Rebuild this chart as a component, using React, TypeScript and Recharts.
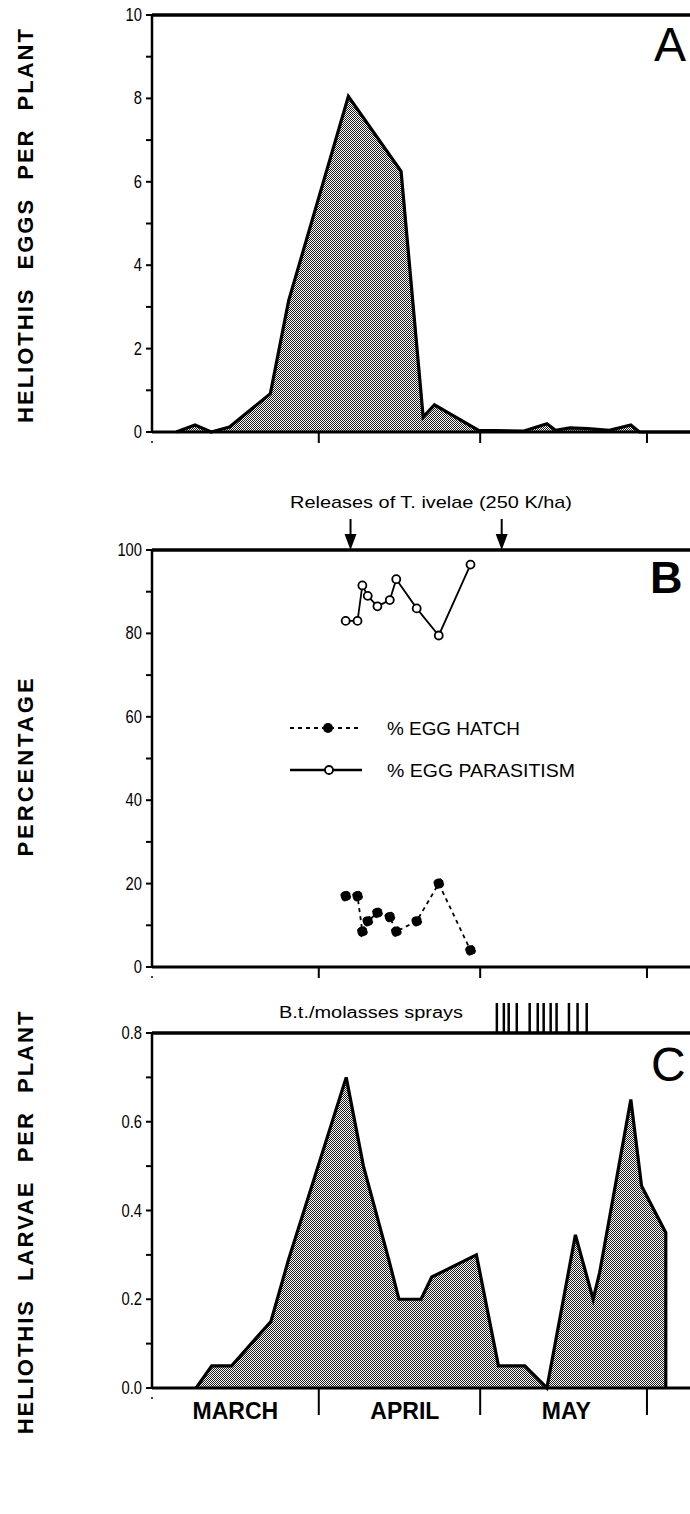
import React from 'react';
import {
  AreaChart,
  Area,
  LineChart,
  Line,
  XAxis,
  YAxis,
  ReferenceLine,
  ReferenceDot,
  Legend,
} from 'recharts';

// x values are days counted from 1 March
const monthStarts = [0, 31, 61, 92];
const monthMids = [15.5, 47, 77];
const monthNames = ['MARCH', 'APRIL', 'MAY'];

// panel A: Heliothis eggs per plant
const eggDays = [4.5, 8, 11, 14.4, 22, 25.4, 36.5, 46.3, 50.4, 52.5, 60.7, 69, 73.4, 75, 77.7, 81, 85, 89, 90.6, 100];
const eggCounts = [0, 0.17, 0, 0.12, 0.92, 3.15, 8.05, 6.25, 0.36, 0.65, 0.04, 0.02, 0.2, 0.04, 0.1, 0.08, 0.04, 0.17, 0, 0];
const eggTicks = [0, 1, 2, 3, 4, 5, 6, 7, 8, 9, 10];
const eggLabels = [0, 2, 4, 6, 8, 10];

// panel B: hatch and parasitism
const sampleDays = [36.0, 38.2, 39.1, 40.1, 41.9, 44.2, 45.4, 49.2, 53.3, 59.2];
const hatchPct = [17, 17, 8.5, 11, 13, 12, 8.5, 11, 20, 4];
const parasitismPct = [83, 83, 91.5, 89, 86.5, 88, 93, 86, 79.5, 96.5];
const seriesNames = ['% EGG HATCH', '% EGG PARASITISM'];
const pctTicks = [0, 10, 20, 30, 40, 50, 60, 70, 80, 90, 100];
const pctLabels = [0, 20, 40, 60, 80, 100];
const releaseDays = [36.9, 65.0];

// panel C: Heliothis larvae per plant
const larvaeDays = [8.2, 11.1, 14.8, 22.1, 25.4, 36.1, 39.3, 44, 45.9, 50, 52, 60.3, 64.4, 69.3, 73.4, 78.7, 82, 83.2, 89, 91, 95.5, 95.5];
const larvaeCounts = [0, 0.05, 0.05, 0.15, 0.29, 0.7, 0.5, 0.29, 0.2, 0.2, 0.25, 0.3, 0.05, 0.05, 0, 0.345, 0.2, 0.26, 0.65, 0.455, 0.35, 0];
const larvaeTicks = [0, 0.1, 0.2, 0.3, 0.4, 0.5, 0.6, 0.7, 0.8];
const larvaeLabels = [0, 0.2, 0.4, 0.6, 0.8];
const sprayDays = [64.1, 65.4, 66.3, 67.8, 70.2, 71.7, 72.8, 74.1, 75.2, 77.5, 79.1, 80.8];

const eggData = eggDays.map((d, i) => ({ day: d, eggs: eggCounts[i] }));
const pctData = sampleDays.map((d, i) => ({ day: d, hatch: hatchPct[i], parasitism: parasitismPct[i] }));
const larvaeData = larvaeDays.map((d, i) => ({ day: d, larvae: larvaeCounts[i] }));

const FONT = '"Liberation Sans", Arial, sans-serif';

const makeYTick = (labels: number[], fmt: (v: number) => string) => (props: any) => {
  const { x, y, payload } = props;
  const v = payload.value;
  if (!labels.some((l) => Math.abs(l - v) < 1e-6)) return <g />;
  return (
    <text transform={`translate(${x - 2},${y + 6}) scale(0.82,1)`} textAnchor="end" fontSize={18} fill="#000" fontFamily={FONT}>
      {fmt(v)}
    </text>
  );
};

// month boundary marks under panels A and B
const BoundaryTick = (props: any) => {
  const { x, y, payload } = props;
  if (payload.value === 0) return <circle cx={x} cy={y + 10} r={1} fill="#000" />;
  return <line x1={x} y1={y} x2={x} y2={y + 11} stroke="#000" strokeWidth={2} />;
};

const MonthTick = (props: any) => {
  const { x, y, payload } = props;
  const v = payload.value;
  const mi = monthMids.indexOf(v);
  if (mi >= 0) {
    return (
      <text x={x} y={y + 31} textAnchor="middle" fontSize={23} fontWeight="bold" fill="#000" fontFamily={FONT}>
        {monthNames[mi]}
      </text>
    );
  }
  if (v === 0) return <circle cx={x} cy={y + 10} r={1} fill="#000" />;
  return <line x1={x} y1={y} x2={x} y2={y + 27} stroke="#000" strokeWidth={2} />;
};

const ArrowDown = (p: any) => (
  <g>
    <line x1={p.cx} y1={p.cy - 31} x2={p.cx} y2={p.cy - 12} stroke="#000" strokeWidth={2} />
    <polygon points={`${p.cx - 6},${p.cy - 16} ${p.cx + 6},${p.cy - 16} ${p.cx},${p.cy}`} fill="#000" />
  </g>
);

const SprayMark = (p: any) => (
  <line x1={p.cx} y1={p.cy - 30} x2={p.cx} y2={p.cy} stroke="#000" strokeWidth={2.5} />
);

const Dither = ({ id }: { id: string }) => (
  <defs>
    <pattern id={id} width={2} height={2} patternUnits="userSpaceOnUse">
      <rect width={2} height={2} fill="#fff" />
      <rect x={0} y={0} width={1} height={1} fill="#1e1e1e" />
      <rect x={1} y={1} width={1} height={1} fill="#1e1e1e" />
    </pattern>
  </defs>
);

const renderLegend = () => (
  <svg width={330} height={70} style={{ display: 'block' }}>
    <line x1={5} y1={13} x2={77} y2={13} stroke="#000" strokeWidth={2} strokeDasharray="4 4" />
    <circle cx={43} cy={13} r={5} fill="#000" />
    <text x={102} y={20} fontSize={18} fontFamily={FONT} textLength={133} lengthAdjust="spacingAndGlyphs">
      {seriesNames[0]}
    </text>
    <line x1={5} y1={55} x2={77} y2={55} stroke="#000" strokeWidth={2.5} />
    <circle cx={44} cy={55} r={4} fill="#fff" stroke="#000" strokeWidth={1.8} />
    <text x={102} y={62} fontSize={18} fontFamily={FONT} textLength={188} lengthAdjust="spacingAndGlyphs">
      {seriesNames[1]}
    </text>
  </svg>
);

const axisLine = { stroke: '#000', strokeWidth: 3 };
const yAxisLine = { stroke: '#000', strokeWidth: 2.5 };
const tickLine = { stroke: '#000', strokeWidth: 2 };

export default function App() {
  return (
    <div style={{ position: 'absolute', left: 0, top: 0, width: 690, height: 1514, background: '#fff', fontFamily: FONT, overflow: 'hidden' }}>
      <div style={{ position: 'absolute', left: 0, top: 0 }}>
        <AreaChart width={690} height={462} data={eggData} margin={{ top: 15, right: 0, bottom: 0, left: 0 }}>
          <Dither id="ditherA" />
          <XAxis dataKey="day" type="number" domain={[0, 100]} ticks={monthStarts} interval={0} tick={BoundaryTick} tickLine={false} tickSize={0} tickMargin={0} axisLine={axisLine} height={30} />
          <YAxis type="number" domain={[0, 10]} ticks={eggTicks} interval={0} width={152} tickSize={6} axisLine={yAxisLine} tickLine={tickLine} tick={makeYTick(eggLabels, (v) => String(v))} />
          <ReferenceLine y={10} stroke="#000" strokeWidth={3.5} />
          <Area type="linear" dataKey="eggs" stroke="#000" strokeWidth={3.2} fill="url(#ditherA)" fillOpacity={1} dot={false} activeDot={false} isAnimationActive={false} />
        </AreaChart>
      </div>

      <div style={{ position: 'absolute', left: 0, top: 500 }}>
        <LineChart width={690} height={497} data={pctData} margin={{ top: 50, right: 0, bottom: 0, left: 0 }}>
          <XAxis dataKey="day" type="number" domain={[0, 100]} ticks={monthStarts} interval={0} tick={BoundaryTick} tickLine={false} tickSize={0} tickMargin={0} axisLine={axisLine} height={30} />
          <YAxis type="number" domain={[0, 100]} ticks={pctTicks} interval={0} width={152} tickSize={6} axisLine={yAxisLine} tickLine={tickLine} tick={makeYTick(pctLabels, (v) => String(v))} />
          <ReferenceLine y={100} stroke="#000" strokeWidth={3.5} />
          {releaseDays.map((d) => (
            <ReferenceDot key={d} x={d} y={100} r={0} shape={ArrowDown} />
          ))}
          <Line type="linear" dataKey="hatch" name={seriesNames[0]} stroke="#000" strokeWidth={1.8} strokeDasharray="4 4" dot={{ r: 5, fill: '#000', stroke: '#000', strokeWidth: 1 }} activeDot={false} isAnimationActive={false} />
          <Line type="linear" dataKey="parasitism" name={seriesNames[1]} stroke="#000" strokeWidth={1.8} dot={{ r: 4, fill: '#fff', stroke: '#000', strokeWidth: 1.8 }} activeDot={false} isAnimationActive={false} />
          <Legend layout="vertical" align="center" verticalAlign="middle" content={renderLegend} wrapperStyle={{ position: 'absolute', left: 285, top: 215, width: 330 }} />
        </LineChart>
      </div>

      <div style={{ position: 'absolute', left: 0, top: 990 }}>
        <AreaChart width={690} height={443} data={larvaeData} margin={{ top: 43, right: 0, bottom: 0, left: 0 }}>
          <Dither id="ditherC" />
          <XAxis dataKey="day" type="number" domain={[0, 100]} ticks={[...monthStarts, ...monthMids].sort((a, b) => a - b)} tick={MonthTick} tickLine={false} tickSize={0} tickMargin={0} interval={0} axisLine={axisLine} height={45} />
          <YAxis type="number" domain={[0, 0.8]} ticks={larvaeTicks} interval={0} width={152} tickSize={6} axisLine={yAxisLine} tickLine={tickLine} tick={makeYTick(larvaeLabels, (v) => v.toFixed(1))} />
          <ReferenceLine y={0.8} stroke="#000" strokeWidth={3.5} />
          {sprayDays.map((d) => (
            <ReferenceDot key={d} x={d} y={0.8} r={0} shape={SprayMark} />
          ))}
          <Area type="linear" dataKey="larvae" stroke="#000" strokeWidth={3.2} fill="url(#ditherC)" fillOpacity={1} dot={false} activeDot={false} isAnimationActive={false} />
        </AreaChart>
      </div>

      <svg width={690} height={1514} style={{ position: 'absolute', left: 0, top: 0, pointerEvents: 'none' }} fontFamily={FONT}>
        <text transform="translate(33,225) rotate(-90)" textAnchor="middle" fontSize={22} fontWeight="bold" letterSpacing={2} wordSpacing={10}>
          HELIOTHIS EGGS PER PLANT
        </text>
        <text transform="translate(33,766) rotate(-90)" textAnchor="middle" fontSize={22} fontWeight="bold" letterSpacing={3}>
          PERCENTAGE
        </text>
        <text transform="translate(33,1222) rotate(-90)" textAnchor="middle" fontSize={22} fontWeight="bold" letterSpacing={2} wordSpacing={10}>
          HELIOTHIS LARVAE PER PLANT
        </text>
        <text x={654} y={61} fontSize={48}>A</text>
        <text x={650} y={593} fontSize={45} fontWeight="bold">B</text>
        <text x={651} y={1081} fontSize={48}>C</text>
        <text x={290} y={508} fontSize={17} textLength={282} lengthAdjust="spacingAndGlyphs">
          Releases of T. ivelae (250 K/ha)
        </text>
        <text x={279} y={1018} fontSize={16} textLength={184} lengthAdjust="spacingAndGlyphs">
          B.t./molasses sprays
        </text>
      </svg>
    </div>
  );
}
